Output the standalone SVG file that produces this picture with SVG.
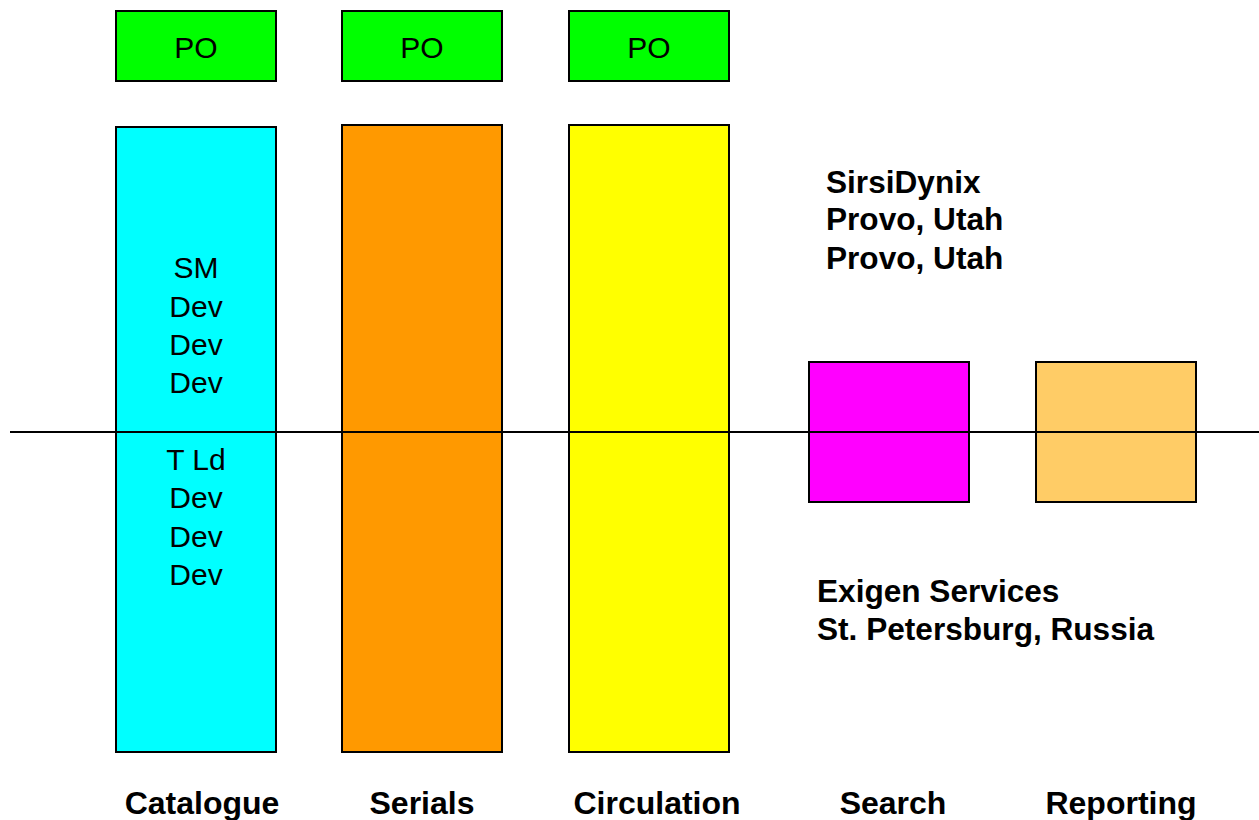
<svg xmlns="http://www.w3.org/2000/svg" width="1259" height="820" viewBox="0 0 1259 820">
  <style>
    .box { stroke: #000; stroke-width: 2; }
    .lbl { font-family: "Liberation Sans", Arial, sans-serif; font-size: 30px; fill: #000; text-anchor: middle; }
    .bold { font-family: "Liberation Sans", Arial, sans-serif; font-size: 31.6px; font-weight: bold; fill: #000; }
    .name { font-size: 32px; text-anchor: middle; }
  </style>
  <rect width="1259" height="820" fill="#fff"/>

  <!-- PO boxes -->
  <g id="po-catalogue">
    <rect class="box" x="116" y="11" width="160" height="70" fill="#00ff00"/>
    <text class="lbl" x="196" y="58">PO</text>
  </g>
  <g id="po-serials">
    <rect class="box" x="342" y="11" width="160" height="70" fill="#00ff00"/>
    <text class="lbl" x="422" y="58">PO</text>
  </g>
  <g id="po-circulation">
    <rect class="box" x="569" y="11" width="160" height="70" fill="#00ff00"/>
    <text class="lbl" x="649" y="58">PO</text>
  </g>

  <!-- Module columns -->
  <g id="catalogue">
    <rect class="box" x="116" y="127" width="160" height="625" fill="#00ffff"/>
    <text class="lbl" x="196" y="278">SM</text>
    <text class="lbl" x="196" y="317">Dev</text>
    <text class="lbl" x="196" y="355">Dev</text>
    <text class="lbl" x="196" y="393">Dev</text>
    <text class="lbl" x="196" y="470">T Ld</text>
    <text class="lbl" x="196" y="508">Dev</text>
    <text class="lbl" x="196" y="547">Dev</text>
    <text class="lbl" x="196" y="585">Dev</text>
  </g>
  <g id="serials">
    <rect class="box" x="342" y="125" width="160" height="627" fill="#ff9900"/>
  </g>
  <g id="circulation">
    <rect class="box" x="569" y="125" width="160" height="627" fill="#ffff00"/>
  </g>
  <g id="search">
    <rect class="box" x="809" y="362" width="160" height="140" fill="#ff00ff"/>
  </g>
  <g id="reporting">
    <rect class="box" x="1036" y="362" width="160" height="140" fill="#ffcc66"/>
  </g>

  <!-- Divider between the two sites -->
  <g id="connectors">
    <line x1="10" y1="432" x2="1259" y2="432" stroke="#000" stroke-width="2"/>
  </g>

  <!-- Site captions -->
  <g id="site-sirsidynix">
    <text class="bold" x="826" y="193">SirsiDynix</text>
    <text class="bold" x="826" y="230">Provo, Utah</text>
    <text class="bold" x="826" y="269">Provo, Utah</text>
  </g>
  <g id="site-exigen">
    <text class="bold" x="817" y="602">Exigen Services</text>
    <text class="bold" x="817" y="640">St. Petersburg, Russia</text>
  </g>

  <!-- Module names -->
  <g id="module-names">
    <text class="bold name" x="202" y="814">Catalogue</text>
    <text class="bold name" x="422" y="814">Serials</text>
    <text class="bold name" x="657" y="814">Circulation</text>
    <text class="bold name" x="893" y="814">Search</text>
    <text class="bold name" x="1121" y="814">Reporting</text>
  </g>
</svg>
